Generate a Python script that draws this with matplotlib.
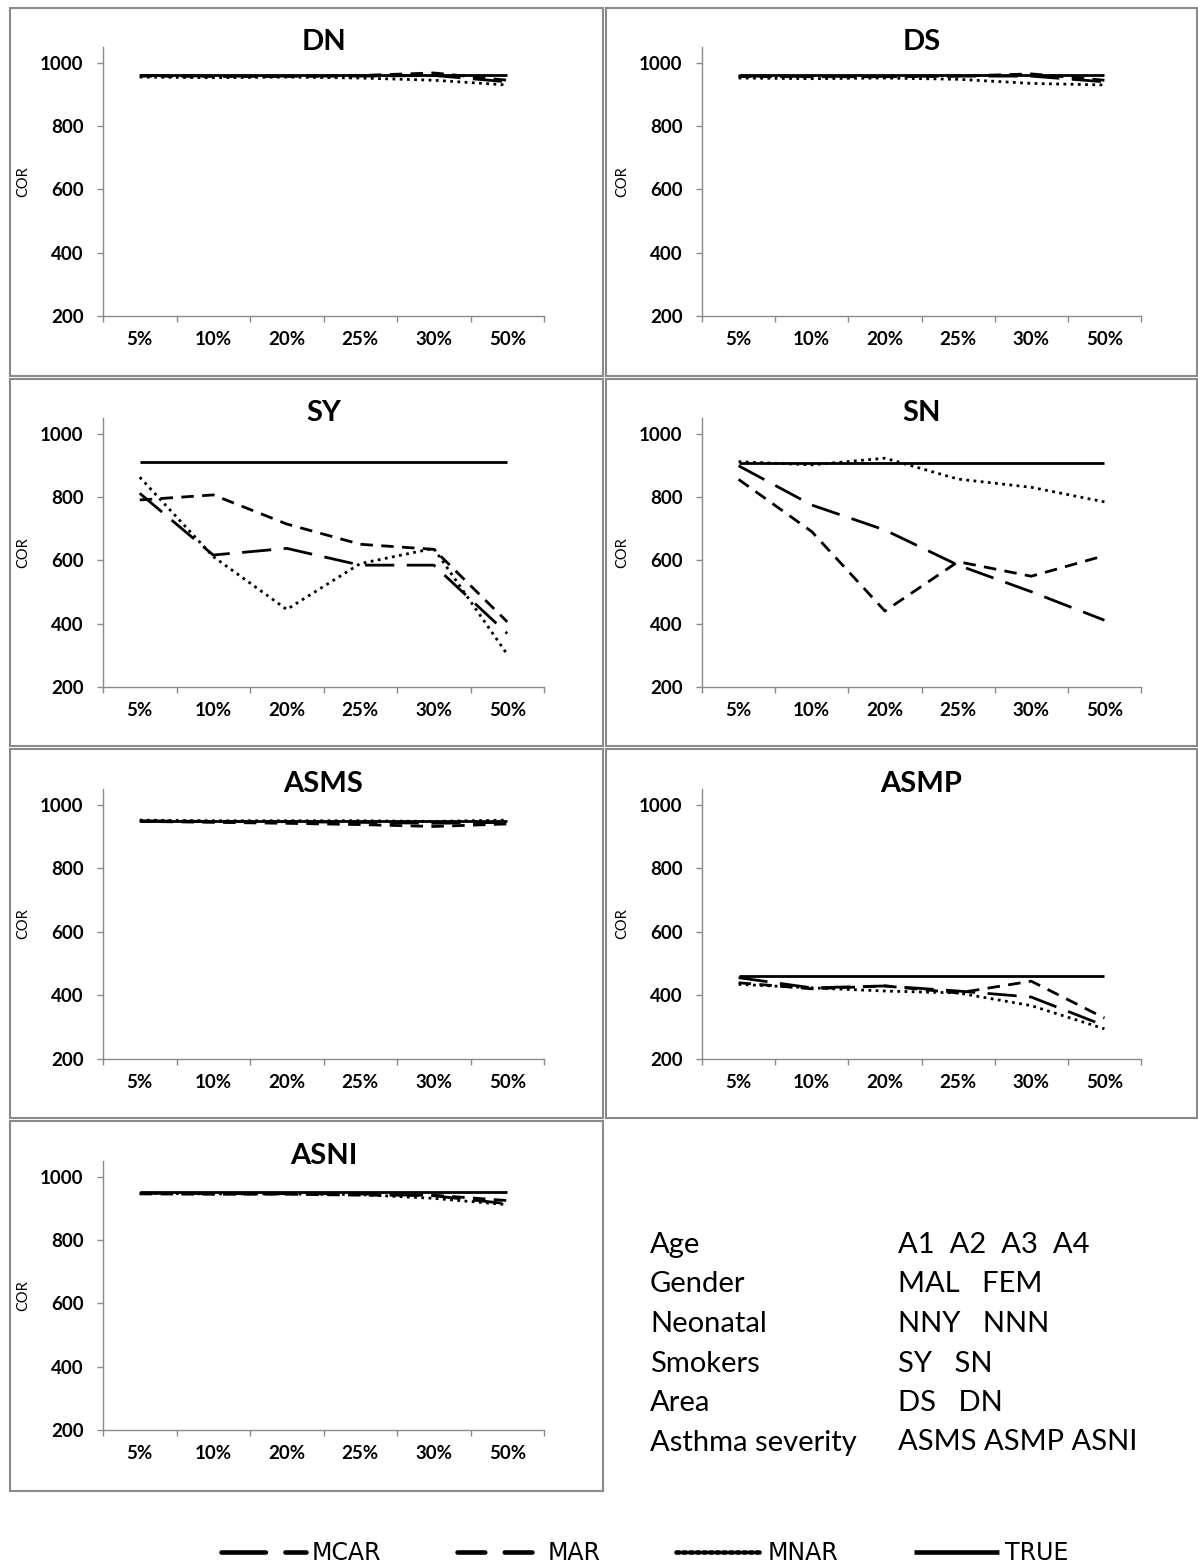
import matplotlib
matplotlib.use("Agg")
import matplotlib.pyplot as plt
from matplotlib.patches import Rectangle
from matplotlib.lines import Line2D

plt.rcParams['font.family'] = ['Lato', 'DejaVu Sans']
plt.rcParams['lines.scale_dashes'] = False

rates = ['5%', '10%', '20%', '25%', '30%', '50%']

dn_true = [962, 962, 962, 962, 962, 962]
dn_mcar = [960, 958, 958, 958, 960, 940]
dn_mar = [958, 957, 957, 960, 968, 945]
dn_mnar = [955, 953, 955, 952, 945, 930]

ds_true = [960, 960, 960, 960, 960, 960]
ds_mcar = [958, 957, 957, 958, 958, 940]
ds_mar = [957, 956, 956, 958, 965, 945]
ds_mnar = [952, 950, 952, 948, 935, 930]

sy_true = [910, 910, 910, 910, 910, 910]
sy_mcar = [812, 617, 638, 585, 585, 369]
sy_mar = [791, 807, 715, 651, 635, 406]
sy_mnar = [863, 612, 445, 590, 638, 303]

sn_true = [909, 909, 909, 909, 909, 909]
sn_mcar = [899, 775, 696, 585, 501, 411]
sn_mar = [856, 691, 440, 596, 550, 615]
sn_mnar = [912, 902, 923, 857, 831, 785]

asms_true = [950, 950, 950, 950, 950, 950]
asms_mcar = [950, 948, 947, 945, 942, 945]
asms_mar = [948, 945, 942, 938, 932, 940]
asms_mnar = [952, 950, 950, 950, 948, 952]

asmp_true = [460, 460, 460, 460, 460, 460]
asmp_mcar = [456, 424, 430, 414, 395, 305]
asmp_mar = [440, 421, 430, 408, 445, 329]
asmp_mnar = [435, 424, 414, 408, 368, 295]

asni_true = [952, 952, 952, 952, 952, 952]
asni_mcar = [948, 947, 947, 946, 940, 915]
asni_mar = [946, 945, 945, 942, 942, 925]
asni_mnar = [948, 946, 946, 944, 932, 912]

panel_names = ['DN', 'DS', 'SY', 'SN', 'ASMS', 'ASMP', 'ASNI']
panel_series = [
    (dn_mcar, dn_mar, dn_mnar, dn_true),
    (ds_mcar, ds_mar, ds_mnar, ds_true),
    (sy_mcar, sy_mar, sy_mnar, sy_true),
    (sn_mcar, sn_mar, sn_mnar, sn_true),
    (asms_mcar, asms_mar, asms_mnar, asms_true),
    (asmp_mcar, asmp_mar, asmp_mnar, asmp_true),
    (asni_mcar, asni_mar, asni_mnar, asni_true),
]

mechanisms = ['MCAR', 'MAR', 'MNAR', 'TRUE']
styles = [
    dict(dashes=(21, 9)),
    dict(dashes=(9, 6)),
    dict(dashes=(2.0, 3.2)),
    dict(linestyle='-'),
]
legend_styles = [
    dict(dashes=(32, 14)),
    dict(dashes=(20, 14)),
    dict(dashes=(2.2, 2.6)),
    dict(linestyle='-'),
]

variables = ['Age', 'Gender', 'Neonatal', 'Smokers', 'Area', 'Asthma severity']
levels = ['A1  A2  A3  A4', 'MAL   FEM', 'NNY   NNN', 'SY   SN', 'DS   DN', 'ASMS ASMP ASNI']

W, H = 1198, 1566
fig = plt.figure(figsize=(W / 100, H / 100), dpi=100)

# panel frames (pixels: left, top, right, bottom)
col_frames = [(10, 603), (606, 1197)]
row_frames = [(8, 376), (379, 746), (749, 1118), (1121, 1491)]
col_axes = [(103, 544), (702, 1141)]
row_axes = [(47, 316), (418, 687), (789, 1059), (1161, 1430)]

grey = '#8a8a8a'
x = [i + 0.5 for i in range(len(rates))]

for k, name in enumerate(panel_names):
    r, c = divmod(k, 2)
    fx0, fx1 = col_frames[c]
    fy0, fy1 = row_frames[r]
    fig.add_artist(Rectangle((fx0 / W, 1 - fy1 / H), (fx1 - fx0) / W, (fy1 - fy0) / H,
                             transform=fig.transFigure, fill=False,
                             edgecolor=grey, linewidth=1.5))
    ax0, ax1 = col_axes[c]
    ay0, ay1 = row_axes[r]
    ax = fig.add_axes([ax0 / W, 1 - ay1 / H, (ax1 - ax0) / W, (ay1 - ay0) / H])
    for series, st in zip(panel_series[k], styles):
        ax.plot(x, series, color='black', linewidth=2.0, solid_capstyle='butt',
                dash_capstyle='butt', **st)
    ax.set_xlim(0, len(rates))
    ax.set_ylim(200, 1050)
    ax.set_yticks([200, 400, 600, 800, 1000])
    ax.set_xticks(range(len(rates) + 1))
    ax.set_xticklabels([])
    ax.set_xticks(x, minor=True)
    ax.set_xticklabels(rates, minor=True)
    ax.tick_params(axis='x', which='major', length=4, width=1, color=grey, direction='out')
    ax.tick_params(axis='x', which='minor', length=0, pad=11, labelsize=13.5)
    ax.tick_params(axis='y', length=4, width=1, color=grey, direction='out',
                   pad=10, labelsize=13.5)
    for lab in ax.get_xticklabels(minor=True) + ax.get_yticklabels():
        lab.set_fontweight('bold')
    for side in ['top', 'right']:
        ax.spines[side].set_visible(False)
    for side in ['left', 'bottom']:
        ax.spines[side].set_color(grey)
        ax.spines[side].set_linewidth(1)
    ax.set_ylabel('COR', fontsize=10.5)
    ax.yaxis.set_label_coords(-73 / (ax1 - ax0), 0.5)
    ax.text(0.5, 1.02, name, transform=ax.transAxes, ha='center', va='center',
            fontsize=21, fontweight='bold')

# coding table
for i, (var, lev) in enumerate(zip(variables, levels)):
    yy = 1 - (1245 + i * 39.5) / H
    fig.text(650 / W, yy, var, fontsize=21, va='center', ha='left')
    fig.text(898 / W, yy, lev, fontsize=21, va='center', ha='left')

handles = [Line2D([], [], color='black', linewidth=3.3, solid_capstyle='butt',
                  dash_capstyle='round', **st) for st in legend_styles]
fig.legend(handles, mechanisms, loc='center', bbox_to_anchor=(0.538, 0.008),
           ncol=4, frameon=False, handlelength=3.6, columnspacing=3.2,
           handletextpad=0.25,
           prop=dict(family=['DejaVu Sans'], size=17))

fig.savefig('out.png', dpi=100)
